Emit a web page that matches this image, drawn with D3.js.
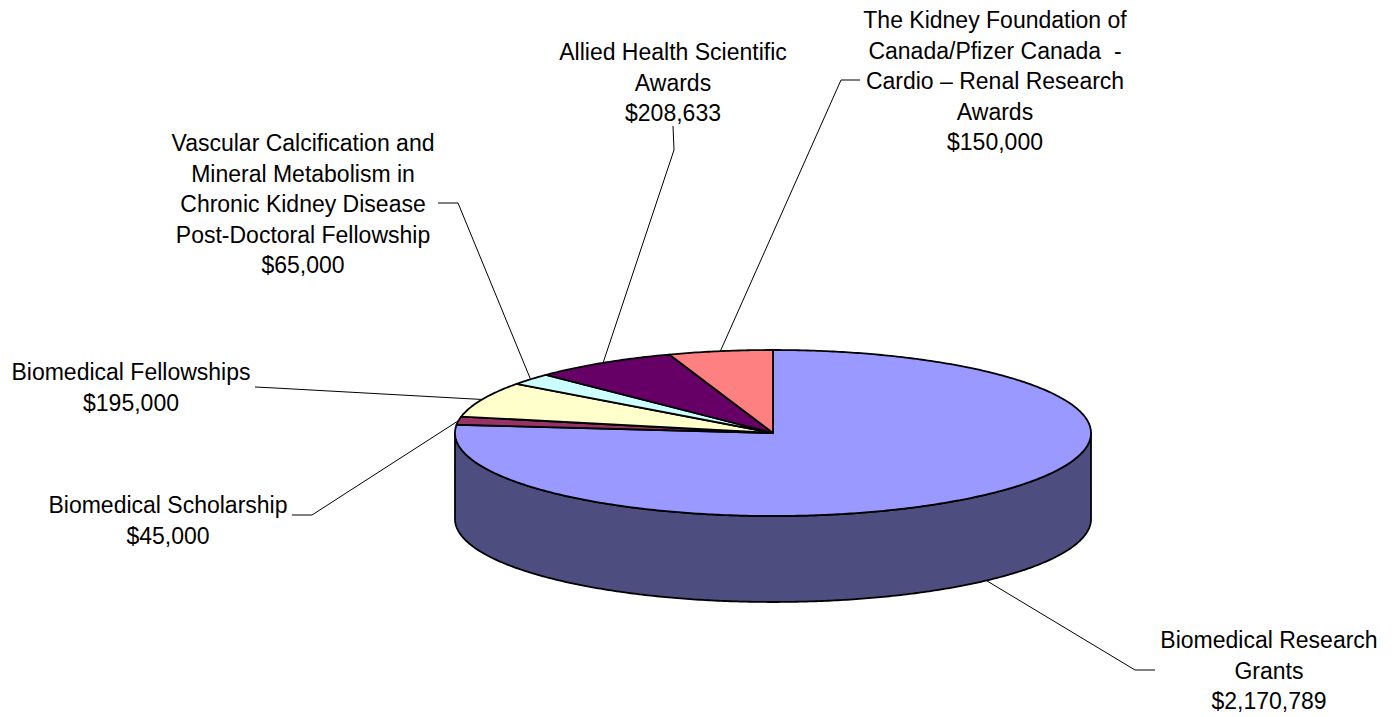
<!DOCTYPE html>
<html>
<head>
<meta charset="utf-8">
<script src="https://cdn.jsdelivr.net/npm/d3@7"></script>
<style>
  body { margin: 0; background: #fff; }
  text { font-family: "Liberation Sans", Arial, sans-serif; font-size: 23px; fill: #000; white-space: pre; }
</style>
</head>
<body>
<div id="chart"></div>
<script>
// data, in drawing order (clockwise from 12 o'clock)
const categories = [
  "Biomedical Research Grants",
  "Biomedical Scholarship",
  "Biomedical Fellowships",
  "Vascular Calcification and Mineral Metabolism in Chronic Kidney Disease Post-Doctoral Fellowship",
  "Allied Health Scientific Awards",
  "The Kidney Foundation of Canada/Pfizer Canada - Cardio – Renal Research Awards"
];
const values = [2170789, 45000, 195000, 65000, 208633, 150000];
const labelLines = [
  ["Biomedical Research", "Grants"],
  ["Biomedical Scholarship"],
  ["Biomedical Fellowships"],
  ["Vascular Calcification and", "Mineral Metabolism in", "Chronic Kidney Disease", "Post-Doctoral Fellowship"],
  ["Allied Health Scientific", "Awards"],
  ["The Kidney Foundation of", "Canada/Pfizer Canada  -", "Cardio – Renal Research", "Awards"]
];
const topColors = ["#9999FF", "#993366", "#FFFFCC", "#CCFFFF", "#660066", "#FF8080"];
const sideColors = ["#4D4D80", "#4D1A33", "#808066", "#668080", "#330033", "#804040"];

// label layout: centre x, first line centre y, leader start and elbow
const labelPos = [
  { x: 1269, y: 640, start: [1155, 670], elbow: [1135, 670], bottom: true },
  { x: 168,  y: 505, start: [292, 515],  elbow: [312, 515] },
  { x: 131,  y: 372, start: [255, 387],  elbow: [275, 388] },
  { x: 303,  y: 143, start: [438, 203],  elbow: [458, 203] },
  { x: 673,  y: 52,  start: [673, 126],  elbow: [674, 150] },
  { x: 995,  y: 20,  start: [860, 80],   elbow: [841, 80] }
];

const W = 1395, H = 717;
const cx = 773, cy = 433, rx = 318, ry = 83, depth = 86;
const lineH = 30.5;

const svg = d3.select("#chart").append("svg")
  .attr("width", W).attr("height", H);

const pie = d3.pie().sort(null).value(d => d)(values);

const px = a => cx + rx * Math.sin(a);
const py = a => cy - ry * Math.cos(a);
const fmt = d3.format("$,");

function arcPoints(a0, a1, dy) {
  const n = Math.max(2, Math.ceil(Math.abs(a1 - a0) / 0.01));
  return d3.range(n + 1).map(i => {
    const a = a0 + (a1 - a0) * i / n;
    return [px(a), py(a) + dy];
  });
}

// front side walls
const front0 = Math.PI / 2, front1 = 3 * Math.PI / 2;
pie.forEach((p, i) => {
  const s = Math.max(p.startAngle, front0), e = Math.min(p.endAngle, front1);
  if (e <= s) return;
  const pts = arcPoints(s, e, 0).concat(arcPoints(e, s, depth));
  svg.append("path")
    .attr("d", d3.line()(pts) + "Z")
    .attr("fill", sideColors[i])
    .attr("stroke", "#000")
    .attr("stroke-width", 1.8)
    .attr("stroke-linejoin", "round");
});

// top faces
pie.forEach((p, i) => {
  const pts = [[cx, cy]].concat(arcPoints(p.startAngle, p.endAngle, 0));
  svg.append("path")
    .attr("d", d3.line()(pts) + "Z")
    .attr("fill", topColors[i])
    .attr("stroke", "#000")
    .attr("stroke-width", 1.8)
    .attr("stroke-linejoin", "round");
});

// labels and leader lines
pie.forEach((p, i) => {
  const L = labelPos[i];
  const mid = (p.startAngle + p.endAngle) / 2;
  const end = [px(mid), py(mid) + (L.bottom ? depth : 0)];
  svg.append("path")
    .attr("d", d3.line()([L.start, L.elbow, end]))
    .attr("fill", "none")
    .attr("stroke", "#000")
    .attr("stroke-width", 1);

  const lines = labelLines[i].concat([fmt(values[i])]);
  const t = svg.append("text")
    .attr("text-anchor", "middle");
  lines.forEach((ln, j) => {
    t.append("tspan")
      .attr("x", L.x)
      .attr("y", L.y + j * lineH + 8)
      .text(ln);
  });
});
</script>
</body>
</html>
